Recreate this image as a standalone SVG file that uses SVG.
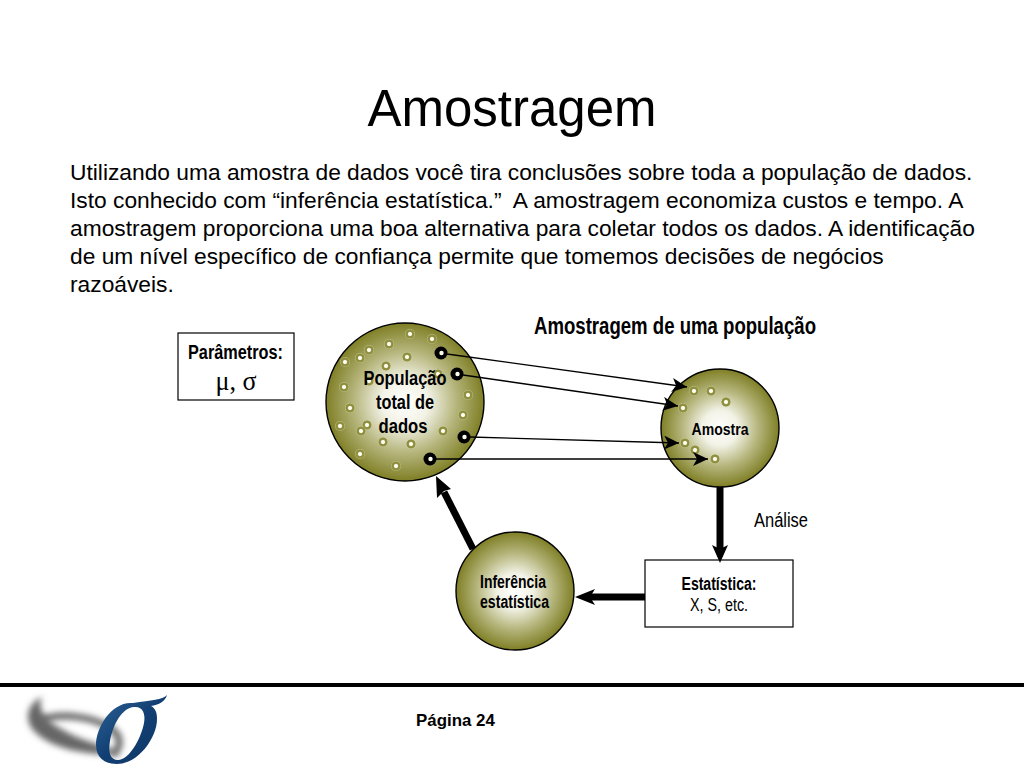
<svg xmlns="http://www.w3.org/2000/svg" width="1024" height="768" viewBox="0 0 1024 768">
<style>
text{font-family:"Liberation Sans",Arial,sans-serif;fill:#000}
.b{font-size:22.78px}
.c{font-weight:bold;text-anchor:middle}
.s{fill:#fff;stroke:#000;stroke-width:1.2}
.ball{stroke:#000;stroke-width:1.4}
.thin{stroke:#000;stroke-width:1.4;fill:none;marker-end:url(#hs)}
.thick{stroke:#000;fill:none}
</style>
<defs>
<radialGradient id="g" cx="50%" cy="50%" r="50%"><stop offset="0" stop-color="#fff"/><stop offset=".3" stop-color="#f2f2e6"/><stop offset=".65" stop-color="#b5b57c"/><stop offset="1" stop-color="#7f7f26"/></radialGradient>
<radialGradient id="d"><stop offset="0" stop-color="#fff"/><stop offset=".3" stop-color="#fffff0"/><stop offset=".52" stop-color="#8f8f40"/><stop offset=".84" stop-color="#8f8f40"/><stop offset="1" stop-color="#d8d8b0" stop-opacity=".6"/></radialGradient>
<linearGradient id="sg" x1="0" y1="0" x2="1" y2="1"><stop offset="0" stop-color="#2f6498"/><stop offset=".5" stop-color="#123f73"/><stop offset="1" stop-color="#0d3564"/></linearGradient>
<filter id="bl" x="-30%" y="-30%" width="160%" height="160%"><feGaussianBlur stdDeviation="3"/></filter>
<marker id="hs" markerUnits="userSpaceOnUse" markerWidth="20" markerHeight="16" refX="15" refY="7" orient="auto"><path d="M0 0L15 7L0 14L4 7Z" fill="#000"/></marker>
<circle id="dot" r="5" fill="url(#d)"/>
<g id="big"><circle r="6.5" fill="#000"/><circle cx="0.5" cy="0" r="2.2" fill="#fffff0"/></g>
</defs>
<rect width="1024" height="768" fill="#fff"/>
<text x="512" y="126" text-anchor="middle" style="font-size:51px">Amostragem</text>
<g id="body">
<text class="b" x="70" y="179.5">Utilizando uma amostra de dados você tira conclusões sobre toda a população de dados.</text>
<text class="b" x="70" y="207.5" xml:space="preserve">Isto conhecido com “inferência estatística.”  A amostragem economiza custos e tempo. A</text>
<text class="b" x="70" y="235.5">amostragem proporciona uma boa alternativa para coletar todos os dados. A identificação</text>
<text class="b" x="70" y="263.5">de um nível específico de confiança permite que tomemos decisões de negócios</text>
<text class="b" x="70" y="291.5">razoáveis.</text>
</g>
<text x="534" y="334" style="font-weight:bold;font-size:23px" textLength="282" lengthAdjust="spacingAndGlyphs">Amostragem de uma população</text>
<g id="parametros">
<rect class="s" x="178" y="333" width="116" height="67"/>
<text x="188" y="359" style="font-weight:bold;font-size:20px" textLength="95" lengthAdjust="spacingAndGlyphs">Parâmetros:</text>
<text x="236" y="390" text-anchor="middle" style="font-family:'Liberation Serif',serif;font-size:27px" textLength="41" lengthAdjust="spacingAndGlyphs">μ, σ</text>
</g>
<g id="populacao">
<circle class="ball" cx="405" cy="402" r="79" fill="url(#g)"/>
<use href="#dot" x="410" y="334"/><use href="#dot" x="432" y="339"/><use href="#dot" x="389" y="344"/><use href="#dot" x="369" y="350"/><use href="#dot" x="360" y="358"/><use href="#dot" x="345" y="362"/><use href="#dot" x="407" y="357"/><use href="#dot" x="386" y="366"/><use href="#dot" x="438" y="374"/><use href="#dot" x="369" y="381"/><use href="#dot" x="344" y="387"/><use href="#dot" x="468" y="395"/><use href="#dot" x="350" y="408"/><use href="#dot" x="463" y="415"/><use href="#dot" x="340" y="426"/><use href="#dot" x="367" y="425"/><use href="#dot" x="361" y="431"/><use href="#dot" x="443" y="431"/><use href="#dot" x="383" y="442"/><use href="#dot" x="411" y="444"/><use href="#dot" x="360" y="454"/><use href="#dot" x="396" y="466"/>
<use href="#big" x="441" y="353"/><use href="#big" x="457" y="374"/><use href="#big" x="464" y="437"/><use href="#big" x="430" y="459"/>
<text class="c" x="405" y="385" style="font-size:20px" textLength="83" lengthAdjust="spacingAndGlyphs">População</text>
<text class="c" x="405" y="409" style="font-size:20px" textLength="58" lengthAdjust="spacingAndGlyphs">total de</text>
<text class="c" x="403" y="433" style="font-size:20px" textLength="49" lengthAdjust="spacingAndGlyphs">dados</text>
</g>
<g id="amostra">
<circle class="ball" cx="720" cy="428" r="59" fill="url(#g)"/>
<use href="#dot" x="694" y="391"/><use href="#dot" x="711" y="391"/><use href="#dot" x="726" y="402"/><use href="#dot" x="683" y="408"/><use href="#dot" x="685" y="443"/><use href="#dot" x="695" y="450"/><use href="#dot" x="715" y="459"/>
<text class="c" x="720" y="434.500" style="font-size:16px" textLength="57" lengthAdjust="spacingAndGlyphs">Amostra</text>
</g>
<g id="inferencia">
<circle class="ball" cx="515" cy="591" r="59" fill="url(#g)"/>
<text x="480" y="588" style="font-weight:bold;font-size:18px" textLength="66" lengthAdjust="spacingAndGlyphs">Inferência</text>
<text x="480" y="608" style="font-weight:bold;font-size:18px" textLength="69" lengthAdjust="spacingAndGlyphs">estatística</text>
</g>
<g id="estatistica">
<rect class="s" x="645" y="560" width="148" height="67"/>
<text class="c" x="719" y="590" style="font-size:18px" textLength="75" lengthAdjust="spacingAndGlyphs">Estatística:</text>
<text x="719" y="611" text-anchor="middle" style="font-size:17.5px" textLength="58" lengthAdjust="spacingAndGlyphs">X, S, etc.</text>
</g>
<text id="analise" x="754" y="527" style="font-size:20px" textLength="54" lengthAdjust="spacingAndGlyphs">Análise</text>
<g id="connectors">
<path class="thin" d="M447 354L687 387"/>
<path class="thin" d="M463 375L678 406"/>
<path class="thin" d="M470 437L679 443"/>
<path class="thin" d="M436 459L708 459"/>
<path class="thick" stroke-width="7" d="M720 487V550"/>
<path d="M720 563L712 545L720 549L728 545Z"/>
<path class="thick" stroke-width="7" d="M645 597H590"/>
<path d="M575 597L595 589L590 597L595 605Z"/>
<path class="thick" stroke-width="7" d="M473 549L444 492"/>
<path d="M436 476L451 489L444 491L437 498Z"/>
</g>
<rect id="footer-rule" x="0" y="683" width="1024" height="4" fill="#000"/>
<text x="416" y="726" style="font-weight:bold;font-size:16.9px">Página 24</text>
<g id="logo">
<path d="M42 697C28 703 22 720 36 733C55 751 92 755 120 755C112 746 85 743 65 731C48 722 36 711 42 697Z" fill="#666" filter="url(#bl)"/>
<path d="M40 721C58 712 92 716 110 728C122 736 122 748 112 754" fill="none" stroke="#666" stroke-width="7" filter="url(#bl)"/>
<path fill-rule="evenodd" fill="url(#sg)" d="M133 703C112 701 96 727 96 745C96 757 104 764 117 764C138 764 157 738 157 719C157 712 155 708 151 706C158 705 165 702 167 695C162 700 152 700 133 703ZM134 707C142 706 146 713 144 723C141 739 129 760 118 760C110 760 108 752 110 741C113 724 122 708 134 707Z"/>
</g>
</svg>
